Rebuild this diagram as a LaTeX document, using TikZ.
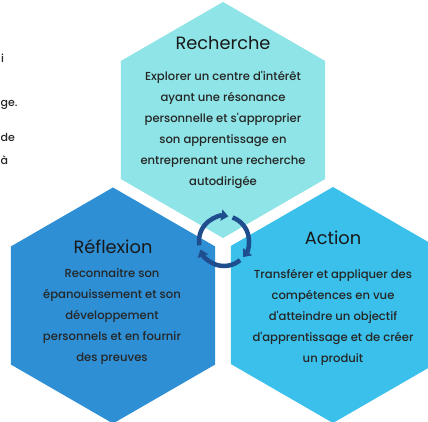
\documentclass[tikz,border=0pt]{standalone}
\usepackage{fontspec}
\setmainfont{Poppins}
\newfontfamily\corps{Poppins}[UprightFont = * Medium]
\usepackage{tikz}
\usetikzlibrary{arrows.meta}
\usetikzlibrary{shapes.geometric}
\definecolor{recherche}{HTML}{8EE4E6}
\definecolor{reflexion}{HTML}{2E8FD5}
\definecolor{action}{HTML}{3AC0EA}
\definecolor{fleche}{HTML}{1F4E8E}
\tikzset{
hexa/.style = { regular polygon, regular polygon sides = 6, shape border rotate = 30, draw = none, minimum size = 236pt, inner sep = 0pt, outer sep = 0pt },
titre/.style = { font = \fontsize{17.8}{19}\selectfont, text = black!90, inner sep = 0pt },
texte/.style = { align = center, font = \corps\fontsize{11.6}{21}\selectfont, text = black!85, inner sep = 0pt },
bord/.style = { anchor = west, font = \corps\fontsize{11}{13}\selectfont, text = black!85, inner sep = 0pt },
cycle arc/.style = { draw = fleche, line width = 4.5pt, -{Triangle[width = 11pt, length = 7pt]} },
}

\begin{document}
\begin{tikzpicture}[x = 1pt, y = 1pt]
    \useasboundingbox (0, 0) rectangle (428, 422);
    \fill[white] (0, 0) rectangle (428, 422);
    \node[bord] (bord i) at (1, 364) {i};
    \node[bord] (bord ge) at (0.5, 317) {ge.};
    \node[bord] (bord de) at (0.5, 285) {de};
    \node[bord] (bord a) at (0.5, 262) {à};
    \node[hexa, fill = recherche] (recherche) at (223, 302) {};
    \node[hexa, fill = reflexion] (reflexion) at (113, 116.5) {};
    \node[hexa, fill = action] (action) at (333, 117) {};
    \node[titre] (titre recherche) at (223, 379) {Recherche};
    \node[titre] (titre reflexion) at (113, 175) {Réflexion};
    \node[titre] (titre action) at (333, 184) {Action};
    \node[texte] (texte recherche) at (223, 292.5) {Explorer un centre d\textquotesingle intérêt\\ayant une résonance\\personnelle et s\textquotesingle approprier\\son apprentissage en\\entreprenant une recherche\\autodirigée};
    \node[texte] (texte reflexion) at (112, 105) {Reconnaitre son\\épanouissement et son\\développement\\personnels et en fournir\\des preuves};
    \node[texte] (texte action) at (333, 105) {Transférer et appliquer des\\compétences en vue\\d\textquotesingle atteindre un objectif\\d\textquotesingle apprentissage et de créer\\un produit};
    \coordinate (centre) at (224, 181);
    \draw[cycle arc] ([shift = {(190:25)}]centre) arc (190:80:25);
    \draw[cycle arc] ([shift = {(70:25)}]centre) arc (70:-40:25);
    \draw[cycle arc] ([shift = {(-50:25)}]centre) arc (-50:-160:25);
\end{tikzpicture}
\end{document}
